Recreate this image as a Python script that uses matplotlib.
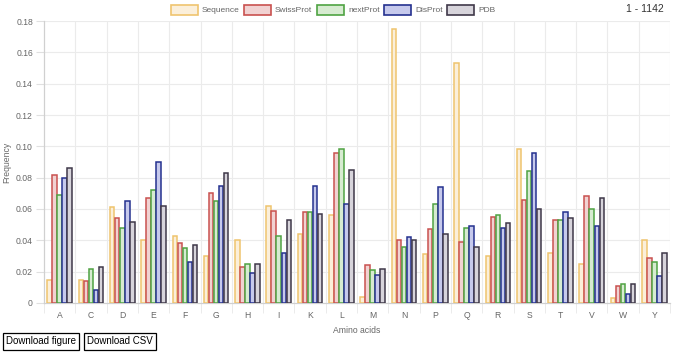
import matplotlib
matplotlib.use("Agg")
import matplotlib.pyplot as plt
from matplotlib.patches import Rectangle
import numpy as np

categories = ["A", "C", "D", "E", "F", "G", "H", "I", "K", "L",
              "M", "N", "P", "Q", "R", "S", "T", "V", "W", "Y"]
sequence = [0.015, 0.015, 0.061, 0.040, 0.043, 0.030, 0.040, 0.062, 0.044, 0.056,
            0.004, 0.175, 0.031, 0.153, 0.030, 0.098, 0.032, 0.025, 0.003, 0.040]
swissprot = [0.082, 0.014, 0.054, 0.067, 0.038, 0.070, 0.023, 0.059, 0.058, 0.096,
             0.024, 0.040, 0.047, 0.039, 0.055, 0.066, 0.053, 0.068, 0.011, 0.029]
nextprot = [0.069, 0.022, 0.048, 0.072, 0.035, 0.065, 0.025, 0.043, 0.058, 0.098,
            0.021, 0.036, 0.063, 0.048, 0.056, 0.084, 0.053, 0.060, 0.012, 0.026]
disprot = [0.080, 0.0085, 0.065, 0.090, 0.026, 0.075, 0.019, 0.032, 0.075, 0.063,
           0.018, 0.042, 0.074, 0.049, 0.048, 0.096, 0.058, 0.049, 0.006, 0.017]
pdb = [0.086, 0.023, 0.052, 0.062, 0.037, 0.083, 0.025, 0.053, 0.057, 0.085,
       0.022, 0.040, 0.044, 0.036, 0.051, 0.060, 0.054, 0.067, 0.012, 0.032]
series_names = ["Sequence", "SwissProt", "nextProt", "DisProt", "PDB"]
y_ticks = [0, 0.02, 0.04, 0.06, 0.08, 0.10, 0.12, 0.14, 0.16, 0.18]
y_tick_labels = ["0", "0.02", "0.04", "0.06", "0.08", "0.10", "0.12", "0.14", "0.16", "0.18"]

series = [sequence, swissprot, nextprot, disprot, pdb]
edge_colors = ["#EFC46E", "#C9514F", "#4FA343", "#25318F", "#3F3849"]
fill_colors = ["#FBEFDA", "#F1D2D2", "#D7EBD1", "#C6C9EC", "#D7D4DB"]

plt.rcParams['font.family'] = ['Liberation Sans', 'DejaVu Sans']

W, H = 678, 353
fig = plt.figure(figsize=(W / 100, H / 100), dpi=100)
ax = fig.add_axes([44 / W, (H - 303) / H, (670 - 44) / W, (303 - 21) / H])

n = len(categories)
x = np.arange(n)
group = 0.8
bw = group / len(series)
for i, (vals, ec, fc) in enumerate(zip(series, edge_colors, fill_colors)):
    pos = x - group / 2 + bw * (i + 0.5)
    ax.bar(pos, vals, width=bw * 0.9, color=fc, edgecolor=ec, linewidth=1.1, zorder=3)

ax.set_xlim(-0.5, n - 0.5)
ax.set_ylim(0, 0.18)
ax.set_yticks(y_ticks)
ax.set_yticklabels(y_tick_labels)
ax.set_xticks(x)
ax.set_xticklabels(categories)
ax.set_xticks(np.arange(-0.5, n, 1), minor=True)

ax.grid(False)
for yv in y_ticks[1:]:
    ax.axhline(yv, color="#EBEBEB", linewidth=0.8, zorder=0)
for xv in np.arange(0.5, n, 1):
    ax.axvline(xv, color="#EBEBEB", linewidth=0.8, zorder=0)

for s in ["top", "right"]:
    ax.spines[s].set_visible(False)
ax.spines["left"].set_color("#D0D0D0")
ax.spines["bottom"].set_color("#D0D0D0")
ax.spines["left"].set_linewidth(0.9)
ax.spines["bottom"].set_linewidth(0.9)

ax.tick_params(axis="y", which="major", length=6, color="#E0E0E0", labelsize=6.2,
               labelcolor="#666666", pad=2)
ax.tick_params(axis="x", which="major", length=0, labelsize=6.2, labelcolor="#666666", pad=6)
ax.tick_params(axis="x", which="minor", length=7, color="#E8E8E8")

ax.set_xlabel("Amino acids", fontsize=6.2, color="#666666", labelpad=4)
fig.text(7 / W, (H - 162) / H, "Frequency", fontsize=6.2, color="#666666",
         rotation=90, va="center", ha="center")

# Legend
legend_boxes = [171, 244, 317, 384, 447]
for name, bx, ec, fc in zip(series_names, legend_boxes, edge_colors, fill_colors):
    fig.patches.append(Rectangle((bx / W, (H - 14.5) / H), 27 / W, 9 / H,
                                 transform=fig.transFigure, facecolor=fc,
                                 edgecolor=ec, linewidth=1.2))
    fig.text((bx + 31) / W, (H - 10) / H, name, fontsize=6, color="#666666",
             va="center", ha="left")

fig.text(664 / W, (H - 9) / H, "1 - 1142", fontsize=7.5, color="#333333",
         va="center", ha="right")

# Buttons
fig.text(6 / W, (H - 341.5) / H, "Download figure", fontsize=7, color="black",
         va="center", ha="left",
         bbox=dict(boxstyle="square,pad=0.35", facecolor="white", edgecolor="black", linewidth=0.9))
fig.text(87 / W, (H - 341.5) / H, "Download CSV", fontsize=7, color="black",
         va="center", ha="left",
         bbox=dict(boxstyle="square,pad=0.35", facecolor="white", edgecolor="black", linewidth=0.9))

fig.savefig("out.png", dpi=100)
